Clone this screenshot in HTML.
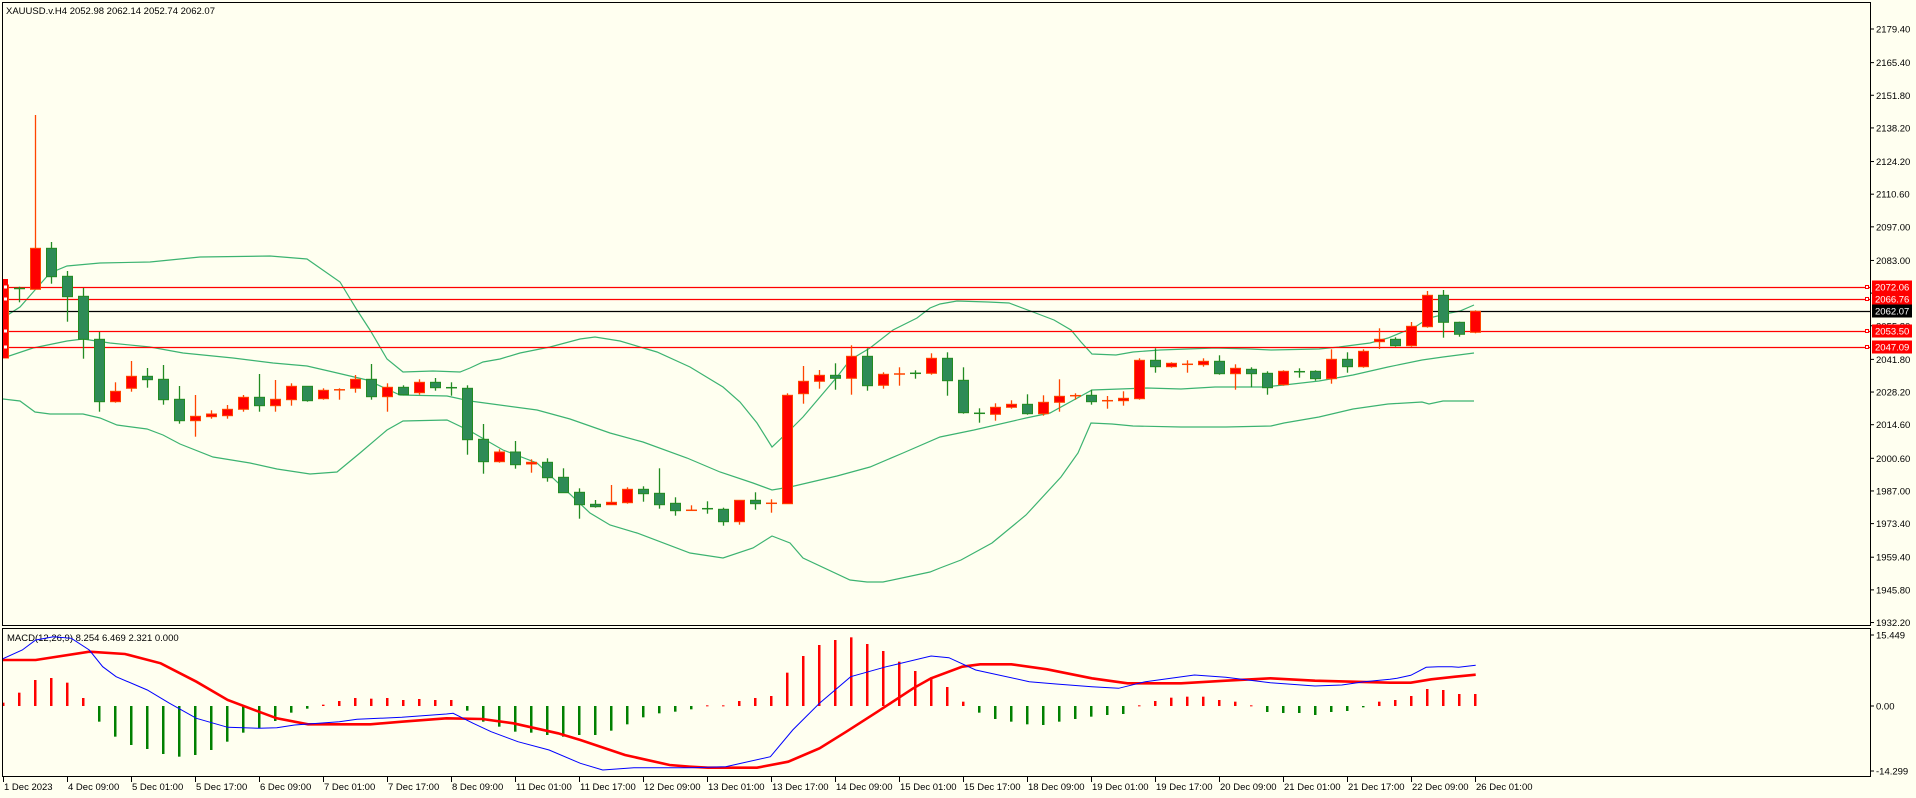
<!DOCTYPE html>
<html><head><meta charset="utf-8"><style>
html,body{margin:0;padding:0;background:#fffff0;}
svg{display:block;font-family:"Liberation Sans",sans-serif;}
</style></head><body>
<svg id="s" width="1916" height="798" xmlns="http://www.w3.org/2000/svg"></svg>
<script>
var NS="http://www.w3.org/2000/svg",S=document.getElementById('s');
var FS=9.5;
function el(t,a,txt){var e=document.createElementNS(NS,t);for(var k in a)e.setAttribute(k,a[k]);if(txt!=null)e.textContent=txt;S.appendChild(e);return e;}
el('rect',{x:0,y:0,width:1916,height:798,fill:'#fffff0'});
el('defs',{}).innerHTML='<clipPath id="cm"><rect x="3" y="3" width="1866" height="622"/></clipPath><clipPath id="cd"><rect x="3" y="629" width="1866" height="147"/></clipPath>';
function P(c){return c.map(function(p){return p[0].toFixed(1)+','+p[1].toFixed(1)}).join(' ');}
var up=[[3,318],[20,307],[35,290],[50,273],[67,266],[100,263],[150,262],[200,257],[270,256],[307,259],[340,282],[357,310],[370,330],[387,359],[403,372],[433,371],[460,372],[470,368],[483,362],[500,359],[520,353],[550,347],[580,339],[595,337],[620,341],[640,347],[657,352],[690,367],[723,387],[740,402],[757,423],[772,447],[790,430],[803,417],[837,377],[850,360],[870,348],[893,330],[917,318],[930,308],[940,304],[957,301],[988,302],[1009,303],[1033,312],[1054,320],[1071,330],[1081,342],[1092,354],[1116,355],[1133,352],[1160,350],[1215,348],[1250,349],[1271,350],[1319,349],[1339,347],[1370,343],[1388,338],[1415,327],[1429,318],[1450,313],[1460,311],[1474,305]];
var mid=[[3,358],[33,348],[67,341],[83,339],[110,343],[150,347],[183,353],[233,358],[273,363],[307,366],[333,372],[367,380],[400,395],[447,396],[470,401],[537,410],[570,419],[610,433],[643,442],[687,458],[720,472],[753,483],[772,490],[790,487],[837,476],[870,467],[903,453],[940,437],[974,430],[1026,418],[1050,413],[1092,390],[1147,388],[1181,389],[1215,387],[1264,387],[1284,385],[1319,381],[1353,375],[1388,367],[1422,360],[1443,357],[1474,353]];
var lo=[[3,399],[20,401],[35,412],[50,414],[83,414],[100,418],[117,425],[147,429],[163,435],[180,444],[213,457],[250,463],[277,469],[310,474],[337,472],[360,453],[387,430],[403,421],[447,420],[470,431],[503,450],[537,463],[590,513],[610,525],[637,533],[690,553],[723,558],[753,548],[772,536],[790,543],[803,558],[850,580],[867,582],[883,582],[930,572],[940,568],[961,560],[992,543],[1026,515],[1061,477],[1078,453],[1091,423],[1112,424],[1133,426],[1181,427],[1226,427],[1271,426],[1284,423],[1319,417],[1353,409],[1388,404],[1422,402],[1429,404],[1443,401],[1474,401]];
[up,mid,lo].forEach(function(b){el('polyline',{points:P(b),fill:'none',stroke:'#3cb371','stroke-width':1.2,'clip-path':'url(#cm)'});});
[[287,'#ff0000'],[299,'#ff0000'],[311,'#000000'],[331,'#ff0000'],[347,'#ff0000']].forEach(function(h){el('line',{x1:3,x2:1870,y1:h[0]+.5,y2:h[0]+.5,stroke:h[1],'stroke-width':1.2});});
var C=[[-1,285,358,279,358,'r'],
[0,288,289,286.7,302.3,'g'],[1,248.3,289.3,115,289.3,'r'],[2,248.3,276.7,242,283.7,'g'],[3,276.3,296.7,271,321.7,'g'],[4,296.3,339.3,288,358.7,'g'],[5,339.3,401.7,332,411.7,'g'],[6,391.3,401.7,382.3,402.7,'r'],[7,376.3,388.3,361,391.7,'r'],[8,376.3,379.7,368,387.7,'g'],[9,379.3,399.7,365,404.7,'g'],
[10,399.3,420.7,386,423.7,'g'],[11,416.3,420.7,395,436.7,'r'],[12,414,416.7,410.3,418.7,'r'],[13,409.3,415.7,405,418.7,'r'],[14,397.3,409.3,395,411.7,'r'],[15,397.3,405.7,374,411.7,'g'],[16,399.3,405.7,380,411.7,'r'],[17,386.3,399.7,383.3,405.7,'r'],[18,386.3,400.7,386.3,401.7,'g'],[19,390.3,398.7,388.3,399.7,'r'],
[20,389.3,390.7,388.3,399.7,'r'],[21,379.3,388.3,375,392.7,'r'],[22,379.3,396.7,364,399.7,'g'],[23,387.3,396.7,383.3,411.7,'r'],[24,387.3,394.7,385.3,395.3,'g'],[25,382.3,392.7,379.3,394.7,'r'],[26,382.3,387.7,378,390.7,'g'],[27,387.2,388.2,382.3,395.7,'g'],[28,388.3,439.7,385.3,454.7,'g'],[29,439.3,461.7,424,473.7,'g'],
[30,452,461.7,449.3,462.7,'r'],[31,452,464.7,441,468.7,'g'],[32,462.3,464,459.3,472.7,'r'],[33,462.3,477.7,458.3,481.7,'g'],[34,477.3,492.7,468.3,492.7,'g'],[35,492.3,504.7,488.3,518.7,'g'],[36,504.3,506.7,500,507.7,'g'],[37,502.3,504.7,485,504.7,'r'],[38,489.3,502.7,487.3,503.7,'r'],[39,489.3,493.7,486.3,501.7,'g'],
[40,493.3,504.7,468.3,508.7,'g'],[41,503.3,510.7,497.3,515.7,'g'],[42,509.8,510.8,505.3,510.8,'r'],[43,508.2,509.2,501.3,513.7,'g'],[44,509.3,521.7,507.7,525.7,'g'],[45,500.3,521.7,500.3,524.7,'r'],[46,500.3,503.7,492.3,509.7,'g'],[47,502.8,503.8,499.3,512.7,'r'],[48,395.3,503.7,393.3,503.7,'r'],[49,381.3,393.7,366,403.7,'r'],
[50,375.3,381.3,370,388.7,'r'],[51,375.3,378.3,363.3,389.7,'g'],[52,356.3,378.3,345.3,394.7,'r'],[53,356.3,385.7,348.3,390.7,'g'],[54,374.3,385.3,372.3,388.7,'r'],[55,373.5,374.5,367.3,385.7,'r'],[56,372.8,373.8,370.3,378.7,'g'],[57,358.3,373.3,353.3,374.7,'r'],[58,358.3,380.7,352.3,395.7,'g'],[59,380.3,412.7,367.3,413.7,'g'],
[60,412.8,413.8,408.3,422.7,'g'],[61,407.3,414.3,403.3,420.7,'r'],[62,404.3,407.3,400.3,408.7,'r'],[63,404.3,413.7,394.3,414.7,'g'],[64,402.3,413.7,395.3,415.7,'r'],[65,396.3,402.3,379.3,411.7,'r'],[66,395.2,396.2,393.3,399.7,'r'],[67,395.3,401.7,389.7,404.7,'g'],[68,400.2,401.2,396,408.7,'r'],[69,398.3,400.7,391.3,405.7,'r'],
[70,360.3,398.7,358.3,399.7,'r'],[71,360.3,366.7,348.3,372.7,'g'],[72,363.3,366.7,362.3,367.7,'r'],[73,363.8,364.8,360.3,372.7,'r'],[74,361.3,364.7,358.3,366.7,'r'],[75,361.3,373.7,355.3,374.7,'g'],[76,368.3,373.7,364.3,389.7,'r'],[77,369.3,373.7,367.3,387.3,'g'],[78,373.3,387.7,371.3,394.7,'g'],[79,371.3,384.7,370.3,385.7,'r'],
[80,371.2,372.2,368.3,377.7,'g'],[81,371.3,378.7,370.3,380.7,'g'],[82,359.3,378.7,349.3,383.7,'r'],[83,359.3,366.7,352.3,372.7,'g'],[84,351.3,366.7,349.3,367.7,'r'],[85,339.3,341.7,328.3,349,'r'],[86,339.3,345.7,337.3,346.7,'g'],[87,326.3,345.7,322,346.7,'r'],[88,295.3,326.7,291,327.7,'r'],[89,295.3,322.3,290,337.7,'g'],
[90,322.3,334.3,321.7,336.7,'g'],[91,311.3,332.3,310.3,333.3,'r']];
C.forEach(function(c){var x=19+16*c[0],r=c[5]=='r',st=r?'#ff4500':'#228b22',fl=r?'#ff0000':'#2e8b57';
 el('line',{x1:x+.5,x2:x+.5,y1:c[3],y2:c[4],stroke:st,'stroke-width':1.3,'clip-path':'url(#cm)'});
 var h=c[2]-c[1];
 if(h<=1.5){el('line',{x1:x-5,x2:x+6,y1:c[1]+.5,y2:c[1]+.5,stroke:st,'stroke-width':1.5,'clip-path':'url(#cm)'});}
 else el('rect',{x:x-4.5,y:c[1],width:10,height:h,fill:fl,stroke:st,'stroke-width':1,'clip-path':'url(#cm)'});
});
el('rect',{x:3,y:279,width:5,height:79,fill:'#ff0000'});
[287,299,331,347].forEach(function(y){el('rect',{x:4,y:y-1.5,width:3,height:3,fill:'#fff'});});
el('rect',{x:2.5,y:2.5,width:1868,height:623,fill:'none',stroke:'#000','stroke-width':1});
el('rect',{x:2.5,y:628.5,width:1868,height:148,fill:'none',stroke:'#000','stroke-width':1});
var labs=['2179.40','2165.40','2151.80','2138.20','2124.20','2110.60','2097.00','2083.00','2069.40','2055.80','2041.80','2028.20','2014.60','2000.60','1987.00','1973.40','1959.40','1945.80','1932.20'];
labs.forEach(function(l){var y=29+(2179.4-parseFloat(l))*2.401;el('line',{x1:1870,x2:1874,y1:y,y2:y,stroke:'#000'});el('text',{x:1876,y:y+3.5,'font-size':FS,fill:'#000'},l);});
[[287,'2072.06','#ff0000'],[299,'2066.76','#ff0000'],[311,'2062.07','#000'],[331,'2053.50','#ff0000'],[347,'2047.09','#ff0000']].forEach(function(b){
 el('rect',{x:1872,y:b[0]-6.5,width:40,height:13,fill:b[2]});el('text',{x:1875,y:b[0]+3.5,'font-size':FS,fill:'#fff'},b[1]);
 if(b[2]!='#000')el('rect',{x:1865.5,y:b[0]-1.5,width:3,height:3,fill:'#fff',stroke:'#ff0000'});
});
el('text',{x:6,y:14,'font-size':FS,fill:'#000'},'XAUUSD.v.H4  2052.98 2062.14 2052.74 2062.07');
el('line',{x1:1870,x2:1874,y1:635,y2:635,stroke:'#000'});el('text',{x:1876,y:638.5,'font-size':FS},'15.449');
el('line',{x1:1870,x2:1874,y1:706,y2:706,stroke:'#000'});el('text',{x:1876,y:709.5,'font-size':FS},'0.00');
el('line',{x1:1870,x2:1874,y1:771,y2:771,stroke:'#000'});el('text',{x:1876,y:774.5,'font-size':FS},'-14.299');
el('text',{x:7,y:641,'font-size':FS},'MACD(12,26,9) 8.254 6.469 2.321 0.000');
var h1=[248,218,180,174,188,234,305,350,375,387,402,410,405,390,365,338,325,303,278,266,254,243,234,236,234,240,237,240,240,272,305,320,335,338,345,350,345,345,332,313,292,280,275,268];
var h2=[256,256,243,234,228,158,108,75,60,52,72,93,125,153,172,201,245,278,297,305,313,315,305,297,290,285,282,256,243,233,230,230,240,245,256,276,279,279,285,276,273,262,245];
var H=[];h1.forEach(function(v,k){H.push([k-1,620+v/3]);});h2.forEach(function(v,k){H.push([43+k,620+v/3]);});
[700,696,689,690,694,694].forEach(function(v,k){H.push([86+k,v]);});
H.forEach(function(b){var x=19+16*b[0],y=b[1];var pos=y<706;el('rect',{x:x-1,y:Math.min(y,706),width:2.5,height:Math.max(Math.abs(706-y),1),fill:pos?'#ff0000':'#008000','clip-path':'url(#cd)'});});
function cv(a,ox,sx,oy,sy){return a.map(function(p){return [ox+p[0]/sx,oy+p[1]/sy];});}
var blue=cv([[0,120],[50,90],[80,60],[120,50],[160,55],[200,90],[230,140],[260,170],[330,210],[380,250],[440,295],[510,322],[580,325],[620,323],[660,315],[760,305],[800,298],[900,292],[1000,282],[1015,280],[1060,310],[1100,335],[1160,365],[1230,390],[1300,430],[1350,450],[1420,443],[1545,443]],0,2.24,620,3)
.concat(cv([[0,443],[80,440],[180,410],[230,330],[290,250],[360,170],[440,140],[540,108],[580,113],[640,150],[760,185],[820,192],[900,200],[960,205],[1020,185],[1130,165],[1200,172],[1300,188],[1400,198],[1460,195],[1510,185],[1568,178]],690,2.24,620,3))
.concat(cv([[50,265],[90,256],[135,232],[170,230],[210,230],[230,232],[280,226]],1380,2.925,590,3));
var red=cv([[0,120],[80,120],[200,95],[280,102],[360,130],[440,185],[510,240],[580,275],[620,295],[690,313],[830,313],[900,305],[1000,295],[1080,297],[1150,310],[1250,340],[1300,360],[1400,405],[1500,435],[1545,440]],0,2.24,620,3)
.concat(cv([[0,440],[40,443],[150,443],[220,425],[290,385],[350,335],[420,275],[500,205],[540,175],[610,140],[650,133],[720,133],[800,148],[900,175],[980,190],[1100,190],[1200,182],[1300,175],[1400,182],[1568,188]],690,2.24,620,3))
.concat(cv([[90,278],[150,268],[220,260],[280,254]],1380,2.925,590,3));
el('polyline',{points:P(red),fill:'none',stroke:'#ff0000','stroke-width':2.6,'clip-path':'url(#cd)'});
el('polyline',{points:P(blue),fill:'none',stroke:'#0000ff','stroke-width':1,'clip-path':'url(#cd)'});
var D=['1 Dec 2023','4 Dec 09:00','5 Dec 01:00','5 Dec 17:00','6 Dec 09:00','7 Dec 01:00','7 Dec 17:00','8 Dec 09:00','11 Dec 01:00','11 Dec 17:00','12 Dec 09:00','13 Dec 01:00','13 Dec 17:00','14 Dec 09:00','15 Dec 01:00','15 Dec 17:00','18 Dec 09:00','19 Dec 01:00','19 Dec 17:00','20 Dec 09:00','21 Dec 01:00','21 Dec 17:00','22 Dec 09:00','26 Dec 01:00'];
D.forEach(function(d,k){var x=3+64*k;el('line',{x1:x+.5,x2:x+.5,y1:777,y2:782,stroke:'#000'});el('text',{x:x+1,y:790,'font-size':FS},d);});
</script>
</body></html>
